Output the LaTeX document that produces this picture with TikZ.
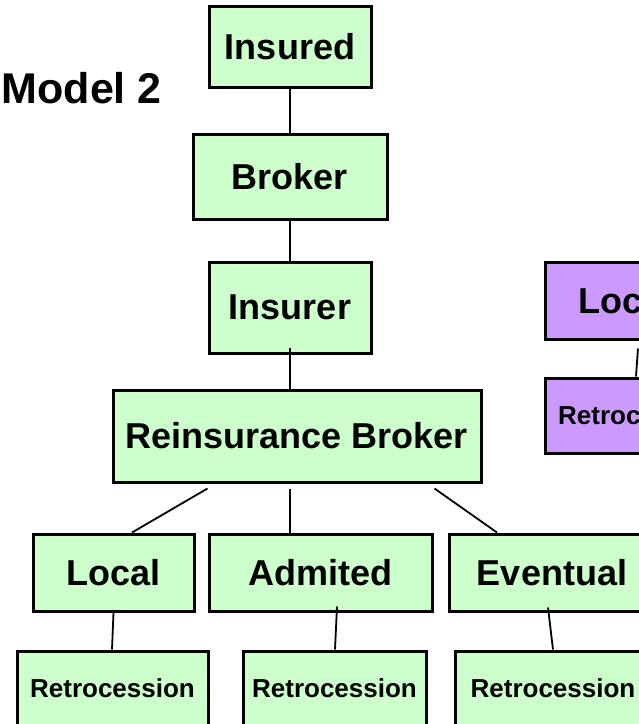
\documentclass[tikz,border=0pt]{standalone}
\usepackage{fontspec}
\setmainfont{Liberation Sans}
\definecolor{boxgreen}{HTML}{CCFFCC}
\definecolor{boxpurple}{HTML}{CC99FF}
\begin{document}
\begin{tikzpicture}[x=1pt,y=-1pt,
  box/.style={draw=black,line width=3pt,fill=boxgreen,rectangle,inner sep=0pt,
    font=\bfseries\fontsize{36}{40}\selectfont},
  pbox/.style={box,fill=boxpurple},
  retro/.style={font=\bfseries\fontsize{26}{30}\selectfont},
  conn/.style={draw=black,line width=1.8pt}]
\useasboundingbox (0,0) rectangle (639,724);
\clip (0,0) rectangle (639,724);
\fill[white] (0,0) rectangle (639,724);

\node[anchor=base east,inner sep=0pt,font=\bfseries\fontsize{43}{46}\selectfont] (title) at (162,103) {Model 2};

\node[box,minimum width=162pt,minimum height=81pt] (insured) at (290,46.5) {Insured};
\node[box,minimum width=194pt,minimum height=85pt] (broker) at (290,176.5) {Broker};
\node[box,minimum width=162pt,minimum height=91pt] (insurer) at (290,307.5) {Insurer};
\node[box,minimum width=368pt,minimum height=92pt] (rb) at (297,436) {Reinsurance Broker};

\node[box,minimum width=161pt,minimum height=77pt] (local) at (113.5,572.5) {Local};
\node[box,minimum width=223pt,minimum height=77pt] (admited) at (320.5,572.5) {Admited};
\node[box,minimum width=206pt,minimum height=77pt] (eventual) at (552,572.5) {Eventual};

\node[box,retro,minimum width=191pt,minimum height=75pt] (retro1) at (112.5,688.5) {Retrocession};
\node[box,retro,minimum width=183pt,minimum height=75pt] (retro2) at (334.5,688.5) {Retrocession};
\node[box,retro,minimum width=196pt,minimum height=75pt] (retro3) at (553,688.5) {Retrocession};

\node[pbox,minimum width=161pt,minimum height=77pt] (plocal) at (625.5,300.5) {Local};
\node[pbox,retro,minimum width=191pt,minimum height=75pt] (pretro) at (640.5,415.5) {Retrocession};

\draw[conn] (insured.south) -- (broker.north);
\draw[conn] (broker.south) -- (insurer.north);
\draw[conn] ([yshift=7pt]insurer.south) -- ([xshift=-7pt]rb.north);
\draw[conn] ([shift={(96,5)}]rb.south west) -- ([shift={(18.5,0)}]local.north);
\draw[conn] ([shift={(-7,5)}]rb.south) -- ([xshift=-30.5pt]admited.north);
\draw[conn] ([shift={(-48,5)}]rb.south east) -- ([xshift=-55pt]eventual.north);
\draw[conn] (local.south) -- ([xshift=-0.5pt]retro1.north);
\draw[conn] ([shift={(16.5,-6)}]admited.south) -- ([xshift=0.5pt]retro2.north);
\draw[conn] ([shift={(-4,-5)}]eventual.south) -- (retro3.north);
\draw[conn] ([shift={(12.5,8)}]plocal.south) -- ([xshift=-4.5pt]pretro.north);
\end{tikzpicture}
\end{document}
